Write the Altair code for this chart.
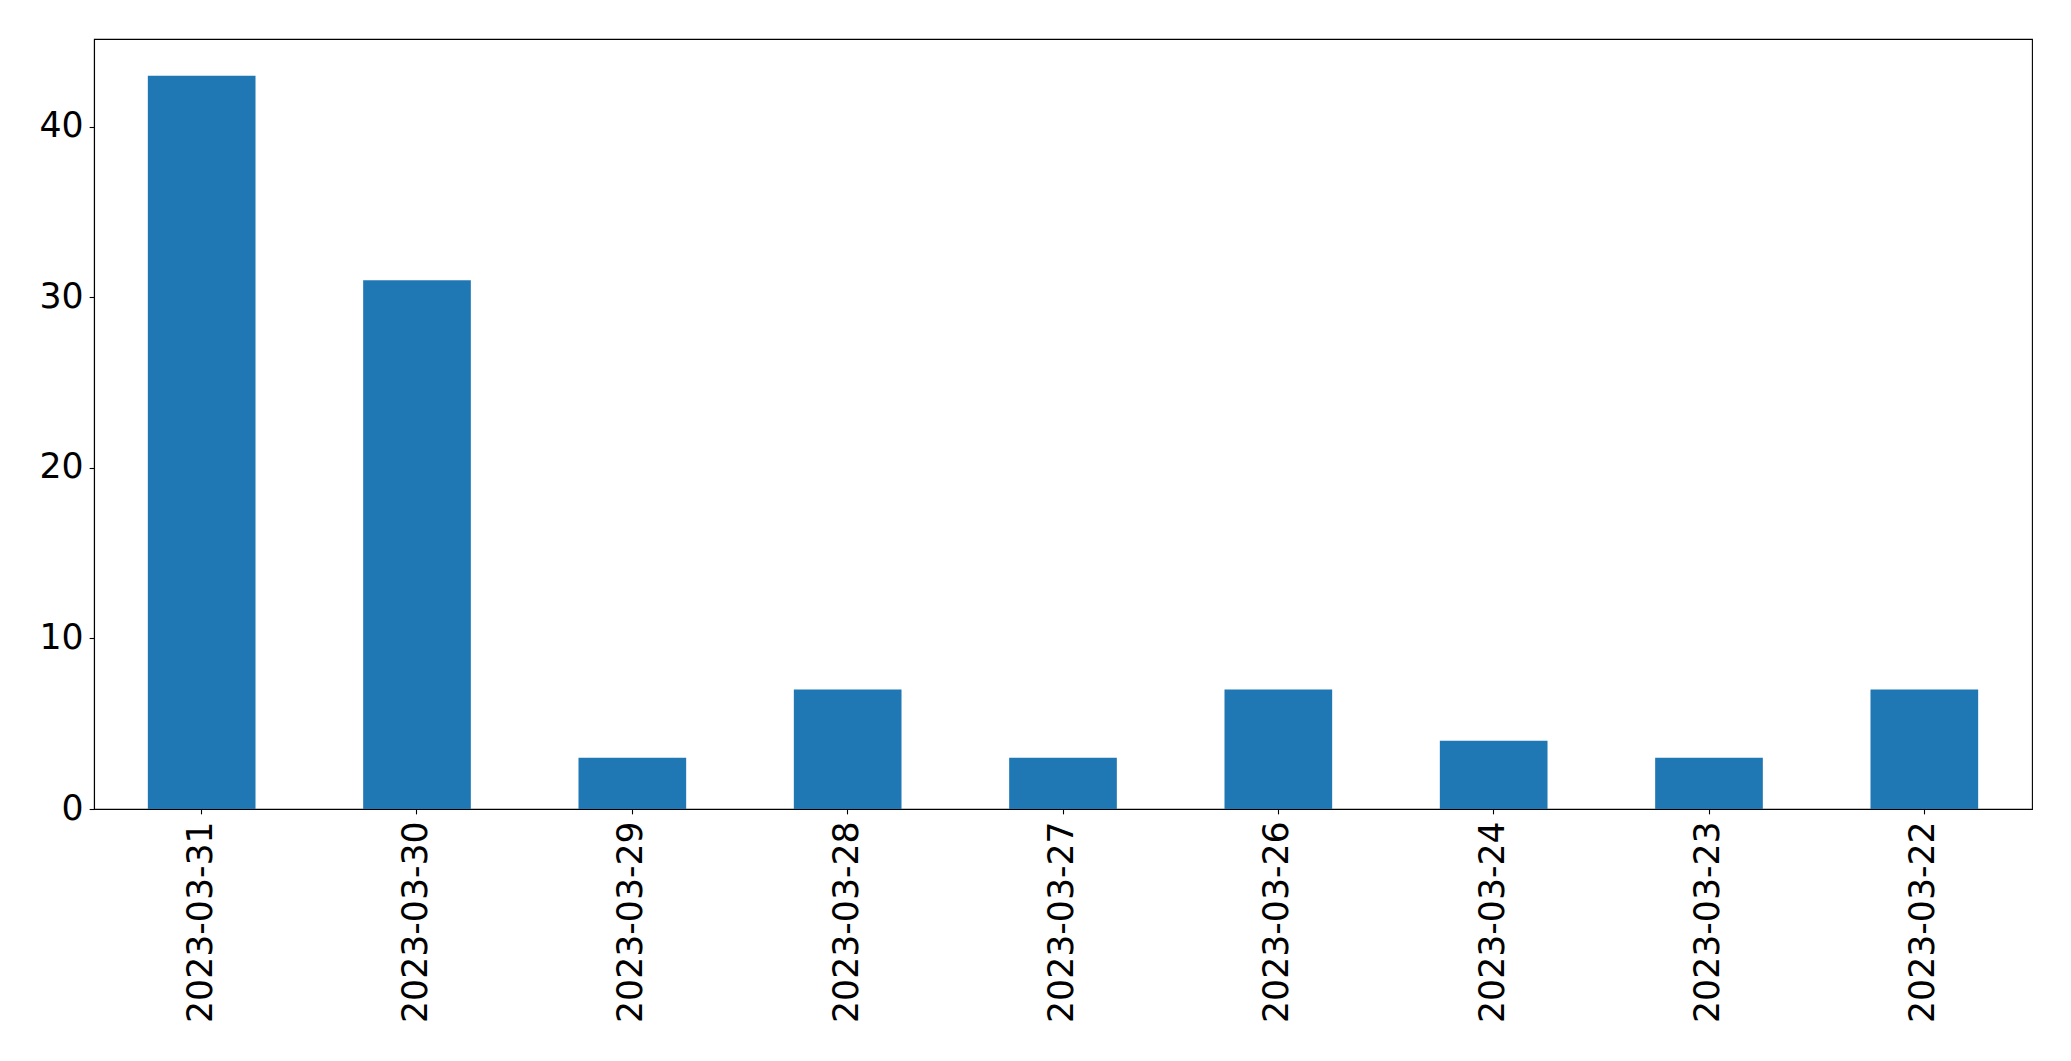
import altair as alt
import pandas as pd

dates = ["2023-03-31", "2023-03-30", "2023-03-29", "2023-03-28", "2023-03-27",
         "2023-03-26", "2023-03-24", "2023-03-23", "2023-03-22"]
counts = [43, 31, 3, 7, 3, 7, 4, 3, 7]
y_ticks = [0, 10, 20, 30, 40]

df = pd.DataFrame({"date": dates, "count": counts})

FONT = "DejaVu Sans"
FS = 34.7

chart = alt.Chart(df).mark_bar(color="#1f77b4").encode(
    x=alt.X("date:N", sort=dates, title=None,
            scale=alt.Scale(paddingInner=0.5, paddingOuter=0.25),
            axis=alt.Axis(labelAngle=270, labelFont=FONT, labelFontSize=FS,
                          labelColor="black", tickColor="black", tickSize=4.86,
                          tickWidth=1.1, labelPadding=7, domainColor="black",
                          domainWidth=1.1, grid=False, labelLimit=0)),
    y=alt.Y("count:Q", title=None,
            scale=alt.Scale(domain=[0, 45.15], nice=False, zero=True),
            axis=alt.Axis(values=y_ticks, labelFont=FONT, labelFontSize=FS,
                          labelColor="black", tickColor="black", tickSize=4.86,
                          tickWidth=1.1, labelPadding=6, domainColor="black",
                          domainWidth=1.1, grid=False)),
).properties(
    width=1938, height=770,
    autosize=alt.AutoSizeParams(type="none"),
    padding={"left": 86, "top": 31, "right": 25, "bottom": 230},
).configure(
    background="white"
).configure_view(
    stroke="black", strokeWidth=1.1
)

chart.save("out.html", embed_options={"renderer": "svg", "actions": False})
